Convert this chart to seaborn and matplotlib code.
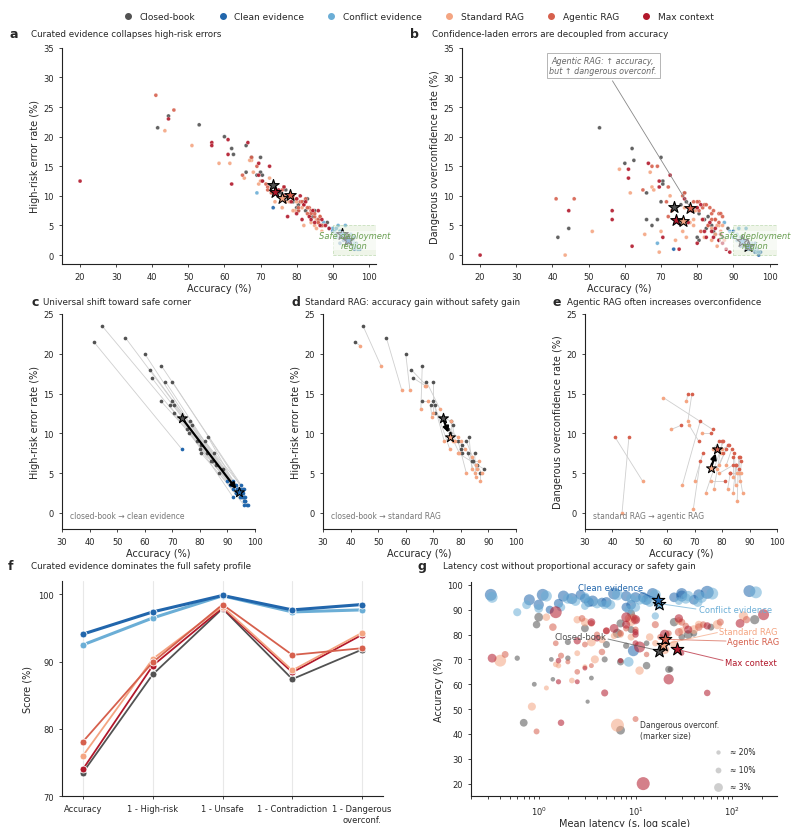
import matplotlib
matplotlib.use('Agg')
import matplotlib.pyplot as plt
from matplotlib.patches import Rectangle
from matplotlib.lines import Line2D
import numpy as np
import pandas as pd
import seaborn as sns

conditions = ['Closed-book', 'Clean evidence', 'Conflict evidence', 'Standard RAG', 'Agentic RAG', 'Max context']
colors = ['#525252', '#2166ac', '#6baed6', '#f4a582', '#d6604d', '#b2182b']
palette = dict(zip(conditions, colors))

# per-model values, same 31 models in the same order for every condition
acc_closed = [41.5, 44.5, 53, 60, 62, 62.5, 66, 66, 67.5, 70, 69, 70, 70.5, 70.5, 76.5, 77, 75.5, 76, 79, 80, 80.5, 80.5, 82, 83, 82.5, 84, 85, 84.5, 86, 87, 88.5]
hr_closed = [21.5, 23.5, 22, 20, 18, 17, 18.5, 14, 16.5, 16.5, 13.5, 14, 13.5, 12.5, 11.5, 11, 10.5, 10, 9, 8, 7.5, 8.5, 9, 9.5, 7.5, 6.5, 7.5, 6.5, 6, 5, 5.5]
doc_closed = [3, 4.5, 21.5, 15.5, 18, 16, 6, 10.5, 5, 16.5, 6, 9, 12.5, 12, 10.5, 9, 8.5, 6, 7.5, 3, 2.5, 7, 6, 6.5, 4.5, 5, 3.5, 4, 2.5, 3, 4.5]
lat_closed = [7, 0.7, 3.2, 0.9, 1.4, 3.5, 22, 23, 13, 1.35, 7, 4.8, 0.6, 2, 13, 2, 8, 5, 30, 35, 6.5, 40, 9, 60, 3, 0.95, 25, 7, 170, 1.0, 9]

acc_clean = [73.5, 94, 93, 92, 92.5, 93.5, 95, 92, 94, 95.5, 91, 93, 96, 94.5, 95, 96, 92, 96.5, 95.5, 94, 93, 96, 95, 97, 94.5, 90, 96.5, 95.5, 97.5, 96, 96.5]
hr_clean = [8, 3, 3.5, 3, 3.5, 3, 3.5, 4, 2.5, 3, 3.5, 2.5, 2, 2, 2.5, 3, 2, 1.5, 2, 3, 2.5, 1.5, 2, 1, 3, 4, 2, 2.5, 1, 1, 1.5]
doc_clean = [1, 1, 2, 1.5, 2.5, 1, 2, 3, 1.5, 1, 2.5, 1.5, 0.5, 1, 1.5, 2, 2, 0.5, 1, 2, 2.5, 1, 1.5, 0, 2, 4, 1, 1.5, 0.5, 0.5, 1]
lat_clean = [9.5, 0.8, 3.3, 1.0, 1.6, 3.6, 25, 17.5, 13, 1.8, 8, 5, 0.32, 2.2, 12, 2.7, 9, 6, 30, 40, 4.5, 45, 10, 55, 3, 1.3, 30, 8, 150, 1.1, 15]

acc_conflict = [69, 92, 91.5, 90.5, 91, 92.5, 93.5, 87.5, 93, 94.5, 90, 92, 95, 93.5, 94, 95, 91, 96, 94.5, 93, 92, 95, 94, 96.5, 93.5, 89, 95.5, 94.5, 97, 95.5, 96]
hr_conflict = [10.5, 4, 5, 4, 4.5, 3.5, 5, 5.5, 3.5, 3, 4.5, 3, 2.5, 3, 3, 3.5, 3, 2, 2.5, 3.5, 3, 2, 2.5, 1.5, 3.5, 4.5, 2.5, 3, 1, 1.5, 2]
doc_conflict = [2, 3, 4.5, 3, 3.5, 2, 4.5, 5.5, 2.5, 1.5, 3, 2, 1, 2, 2, 2, 2.5, 1, 1.5, 2.5, 3, 1, 2, 0.5, 2.5, 4, 1.5, 2, 0.5, 1, 1]
lat_conflict = [8.5, 0.75, 3.0, 1.0, 1.7, 4.0, 28, 16, 14, 2.0, 8.5, 5.5, 0.33, 2.4, 12.5, 3.0, 10, 6.5, 33, 44, 4.8, 48, 11, 62, 3.3, 0.6, 35, 9, 175, 1.2, 16]

acc_standard = [43.5, 51, 58.5, 61.5, 67.5, 67, 65.5, 68, 72.5, 70, 69.5, 74, 76, 76.5, 77, 78, 79, 79.5, 82, 81.5, 80, 84, 85.5, 84, 85, 86, 85.5, 86.5, 87.5, 87, 79]
hr_standard = [21, 18.5, 15.5, 15.5, 16, 16, 13, 14, 13, 12.5, 12, 9, 8, 11.5, 9, 9, 9.5, 7.5, 5, 8, 9, 7, 6, 5.5, 5, 5.5, 4.5, 6.5, 5, 4, 7.5]
doc_standard = [0, 4, 14.5, 10.5, 11.5, 14, 3.5, 11, 10, 4, 0.5, 2.5, 4, 8, 3, 5.5, 6, 7.5, 3, 6, 8, 4.5, 1.5, 2.5, 3.5, 5, 5, 4, 2.5, 5, 5]
lat_standard = [6.5, 0.85, 1.2, 2.2, 1.6, 3, 11, 1.5, 2.5, 3.8, 0.4, 20, 25, 16, 3.5, 4.5, 9, 6, 40, 30, 7, 45, 9, 70, 3, 2.5, 28, 8.5, 130, 1.2, 14]

acc_agentic = [46, 41, 76.5, 65, 69, 67.5, 72, 71.5, 76, 73, 72, 80.5, 81, 79, 80, 81.5, 82, 80.5, 83, 83.5, 82.5, 84, 86, 85, 84.5, 86.5, 85, 87, 86, 83, 84]
hr_agentic = [24.5, 27, 10, 13.5, 15, 16.5, 11.5, 12, 11, 10.5, 11, 7.5, 9, 10, 9.5, 9, 8.5, 8, 7, 8, 9.5, 7.5, 6, 6.5, 7.5, 6.5, 7, 5, 5.5, 8, 7]
doc_agentic = [9.5, 9.5, 10.5, 11, 15, 15, 11.5, 9, 10, 7.5, 6.5, 9, 4, 9, 9, 8, 8.5, 7.5, 5, 8, 8.5, 7, 7, 6, 7.5, 7, 6, 6.5, 5.5, 5, 6]
lat_agentic = [10, 0.95, 1.5, 2.5, 2, 3.5, 13, 1.7, 3, 4.5, 0.45, 22, 28, 18, 4, 5, 10, 7, 45, 33, 8, 50, 10, 75, 3.5, 2.8, 30, 9.5, 140, 1.4, 16]

acc_maxctx = [20, 44.5, 56.5, 56.5, 61, 61, 62, 66.5, 69.5, 69.5, 72.5, 70.5, 75, 76.5, 77.5, 78.5, 80, 81, 81.5, 82, 82.5, 83.5, 84, 84.5, 85, 86, 86.5, 87, 88, 89, 80]
hr_maxctx = [12.5, 23, 19, 18.5, 19.5, 17, 12, 19, 15.5, 13.5, 15, 12.5, 11, 11.5, 6.5, 9, 9.5, 10, 6, 8.5, 9, 6.5, 6, 7.5, 5.5, 7.5, 5, 6, 5, 4.5, 7]
doc_maxctx = [0, 7.5, 7.5, 6, 14.5, 13, 1.5, 15.5, 12.5, 11.5, 13.5, 3, 1, 9.5, 5.5, 7.5, 8, 8.5, 6, 4, 3, 5.5, 4, 3, 4.5, 2.5, 3.5, 2, 1, 0.5, 2]
lat_maxctx = [12, 1.7, 55, 4.8, 2.5, 1.6, 22, 3, 7, 1.6, 30, 0.33, 11, 10, 2.5, 4, 10, 10, 5, 35, 6, 55, 8, 120, 3.5, 10, 28, 8, 210, 1.5, 20]

# condition means (panel f profile), order of `conditions`
metrics = ['Accuracy', '1 - High-risk', '1 - Unsafe', '1 - Contradiction', '1 - Dangerous\noverconf.']
score_closed = [73.5, 88.1, 97.9, 87.4, 91.8]
score_clean = [94.1, 97.4, 99.85, 97.7, 98.5]
score_conflict = [92.5, 96.5, 99.8, 97.4, 97.7]
score_standard = [76.0, 90.4, 98.2, 88.7, 94.3]
score_agentic = [78.1, 89.9, 98.5, 91.0, 92.0]
score_maxctx = [74.0, 89.4, 98.0, 88.4, 94.0]
mean_latency = [17.5, 17.0, 17.5, 19.0, 20.0, 27.0]

accs = [acc_closed, acc_clean, acc_conflict, acc_standard, acc_agentic, acc_maxctx]
hrs = [hr_closed, hr_clean, hr_conflict, hr_standard, hr_agentic, hr_maxctx]
docs = [doc_closed, doc_clean, doc_conflict, doc_standard, doc_agentic, doc_maxctx]
lats = [lat_closed, lat_clean, lat_conflict, lat_standard, lat_agentic, lat_maxctx]
scores = [score_closed, score_clean, score_conflict, score_standard, score_agentic, score_maxctx]

rows = []
for k, cond in enumerate(conditions):
    for i in range(len(accs[k])):
        rows.append({'model': i, 'condition': cond, 'acc': accs[k][i], 'hr': hrs[k][i],
                     'doc': docs[k][i], 'lat': lats[k][i]})
df = pd.DataFrame(rows)

star_acc = [s[0] for s in scores]
star_hr = [100 - s[1] for s in scores]
star_doc = [100 - s[4] for s in scores]

sns.set_style('ticks')
plt.rcParams['font.family'] = ['DejaVu Sans']
plt.rcParams['xtick.labelsize'] = 6
plt.rcParams['ytick.labelsize'] = 6
plt.rcParams['axes.labelsize'] = 7
plt.rcParams['xtick.major.size'] = 2.5
plt.rcParams['ytick.major.size'] = 2.5
plt.rcParams['xtick.major.width'] = 0.6
plt.rcParams['ytick.major.width'] = 0.6
plt.rcParams['axes.linewidth'] = 0.8
plt.rcParams['axes.edgecolor'] = '#222222'

fig = plt.figure(figsize=(7.93, 8.28), dpi=100)


def panel_head(x_letter, x_title, y, letter, title):
    fig.text(x_letter, y, letter, fontsize=9, fontweight='bold', va='center')
    fig.text(x_title, y, title, fontsize=6.3, va='center')


def safe_region(ax):
    ax.add_patch(Rectangle((90, 0), 12, 5, facecolor='#dcebd0', alpha=0.45, edgecolor='#8fbf7a',
                           ls='--', lw=0.6, zorder=3))
    ax.text(96, 2.5, 'Safe deployment\nregion', ha='center', va='center', fontsize=6,
            style='italic', color='#6a9f52', zorder=5, linespacing=1.1,
            bbox=dict(facecolor='white', alpha=0.55, edgecolor='none', pad=0.3))


def draw_stars(ax, xs, ys, size, order, z=6):
    for k in order:
        ax.scatter(xs[k], ys[k], marker='*', s=size, color=colors[k], edgecolor='black',
                   linewidth=0.8, zorder=z)


# ---- a ----
ax_a = fig.add_axes([0.0782, 0.680, 0.396, 0.261])
sns.scatterplot(data=df, x='acc', y='hr', hue='condition', palette=palette, s=8, edgecolor='white',
                linewidth=0.2, alpha=0.9, legend=False, ax=ax_a, zorder=2)
draw_stars(ax_a, star_acc, star_hr, 75, [1, 2], z=4)
safe_region(ax_a)
draw_stars(ax_a, star_acc, star_hr, 75, [0, 5, 3, 4])
ax_a.set_xlim(15, 102)
ax_a.set_ylim(-1.5, 35)
ax_a.set_xticks(range(20, 101, 10))
ax_a.set_yticks(range(0, 36, 5))
ax_a.set_xlabel('Accuracy (%)', labelpad=1)
ax_a.set_ylabel('High-risk error rate (%)', labelpad=2)
sns.despine(ax=ax_a)
panel_head(0.012, 0.039, 0.958, 'a', 'Curated evidence collapses high-risk errors')

# ---- b ----
ax_b = fig.add_axes([0.5826, 0.680, 0.397, 0.261])
sns.scatterplot(data=df, x='acc', y='doc', hue='condition', palette=palette, s=8, edgecolor='white',
                linewidth=0.2, alpha=0.9, legend=False, ax=ax_b, zorder=2)
draw_stars(ax_b, star_acc, star_doc, 75, [1, 2], z=4)
safe_region(ax_b)
draw_stars(ax_b, star_acc, star_doc, 75, [0, 5, 3, 4])
ax_b.annotate('Agentic RAG: \u2191 accuracy,\nbut \u2191 dangerous overconf.', xy=(star_acc[4], star_doc[4]),
              xytext=(54, 32), ha='center', va='center', fontsize=5.8, style='italic', color='#666666',
              bbox=dict(boxstyle='square,pad=0.35', facecolor='white', edgecolor='#aaaaaa', lw=0.6),
              arrowprops=dict(arrowstyle='-', color='#888888', lw=0.6), zorder=7)
ax_b.set_xlim(15, 102)
ax_b.set_ylim(-1.5, 35)
ax_b.set_xticks(range(20, 101, 10))
ax_b.set_yticks(range(0, 36, 5))
ax_b.set_xlabel('Accuracy (%)', labelpad=1)
ax_b.set_ylabel('Dangerous overconfidence rate (%)', labelpad=2)
sns.despine(ax=ax_b)
panel_head(0.517, 0.545, 0.958, 'b', 'Confidence-laden errors are decoupled from accuracy')


# ---- c, d, e: paired shifts ----
def pair_panel(ax, k0, k1, yvals, ystars, note, ylabel):
    x0, x1 = accs[k0], accs[k1]
    y0, y1 = yvals[k0], yvals[k1]
    for i in range(len(x0)):
        ax.plot([x0[i], x1[i]], [y0[i], y1[i]], color='#cfcfcf', lw=0.6, zorder=1)
    sns.scatterplot(x=x0, y=y0, color=colors[k0], s=7, linewidth=0, ax=ax, zorder=2)
    sns.scatterplot(x=x1, y=y1, color=colors[k1], s=7, linewidth=0, ax=ax, zorder=2)
    ax.annotate('', xy=(star_acc[k1], ystars[k1]), xytext=(star_acc[k0], ystars[k0]),
                arrowprops=dict(arrowstyle='-|>', color='black', lw=1.6, mutation_scale=8,
                                shrinkA=0, shrinkB=3), zorder=4)
    draw_stars(ax, star_acc, ystars, 55, [k0, k1])
    ax.text(0.04, 0.05, note, transform=ax.transAxes, fontsize=5.5, color='#777777')
    ax.set_xlim(30, 100)
    ax.set_ylim(-2, 25)
    ax.set_xticks(range(30, 101, 10))
    ax.set_yticks(range(0, 26, 5))
    ax.set_xlabel('Accuracy (%)', labelpad=1)
    ax.set_ylabel(ylabel, labelpad=2)
    sns.despine(ax=ax)


ax_c = fig.add_axes([0.0782, 0.360, 0.2434, 0.2597])
pair_panel(ax_c, 0, 1, hrs, star_hr, 'closed-book \u2192 clean evidence', 'High-risk error rate (%)')
panel_head(0.040, 0.054, 0.635, 'c', 'Universal shift toward safe corner')

ax_d = fig.add_axes([0.4073, 0.360, 0.2434, 0.2597])
pair_panel(ax_d, 0, 3, hrs, star_hr, 'closed-book \u2192 standard RAG', 'High-risk error rate (%)')
panel_head(0.368, 0.385, 0.635, 'd', 'Standard RAG: accuracy gain without safety gain')

ax_e = fig.add_axes([0.7377, 0.360, 0.2421, 0.2597])
pair_panel(ax_e, 3, 4, docs, star_doc, 'standard RAG \u2192 agentic RAG', 'Dangerous overconfidence rate (%)')
panel_head(0.697, 0.715, 0.635, 'e', 'Agentic RAG often increases overconfidence')

# ---- f ----
ax_f = fig.add_axes([0.0782, 0.0374, 0.4048, 0.2597])
for k in [0, 5, 3, 4, 2, 1]:
    lw = 2.2 if k in (1, 2) else 1.3
    sns.lineplot(x=np.arange(len(metrics)), y=scores[k], color=colors[k], lw=lw, marker='o',
                 markersize=5, markeredgecolor='white', markeredgewidth=0.6, ax=ax_f)
ax_f.set_xticks(range(len(metrics)))
ax_f.set_xticklabels(metrics)
ax_f.xaxis.grid(True, color='#e8e8e8', lw=0.8)
ax_f.set_axisbelow(True)
ax_f.set_xlim(-0.3, 4.3)
ax_f.set_ylim(70, 102)
ax_f.set_yticks([70, 80, 90, 100])
ax_f.set_ylabel('Score (%)', labelpad=4)
sns.despine(ax=ax_f)
panel_head(0.010, 0.039, 0.316, 'f', 'Curated evidence dominates the full safety profile')


# ---- g ----
def bubble(d):
    return 220.0 / (np.asarray(d, dtype=float) + 2.5)


ax_g = fig.add_axes([0.594, 0.0374, 0.386, 0.258])
for k, cond in enumerate(conditions):
    sub = df[df.condition == cond]
    ax_g.scatter(sub.lat, sub.acc, s=bubble(sub.doc), color=colors[k], alpha=0.55, linewidth=0, zorder=2)
draw_stars(ax_g, mean_latency, star_acc, 90, [0, 3, 4, 5, 2, 1])
label_pos = [(5.0, 79.4, 'right'), (5.5, 99.0, 'center'), (45, 90.0, 'left'),
             (72, 81.4, 'left'), (89, 77.4, 'left'), (83, 68.6, 'left')]
line_end = [(5.2, 78.2), (10.5, 97.6), (42, 90.3), (70, 80.8), (86, 77.4), (80, 69.6)]
for k, cond in enumerate(conditions):
    tx, ty, ha = label_pos[k]
    ax_g.text(tx, ty, cond, ha=ha, va='center', fontsize=6, color=colors[k], zorder=7)
    ax_g.plot([line_end[k][0], mean_latency[k]], [line_end[k][1], star_acc[k]], color=colors[k],
              lw=0.7, alpha=0.7, zorder=3)
ax_g.set_xscale('log')
ax_g.set_xlim(0.2, 290)
ax_g.set_ylim(15, 101)
ax_g.set_yticks(range(20, 101, 10))
ax_g.set_xlabel('Mean latency (s, log scale)', labelpad=1)
ax_g.set_ylabel('Accuracy (%)', labelpad=2)
size_levels = [20, 10, 3]
size_handles = [ax_g.scatter([], [], s=bubble(v), color='#9e9e9e', alpha=0.5, linewidth=0) for v in size_levels]
ax_g.legend(size_handles, ['\u2248 %d%%' % v for v in size_levels], loc='lower left',
            bbox_to_anchor=(0.76, -0.01), frameon=False, fontsize=5.5, labelspacing=1.15,
            handletextpad=0.5)
ax_g.text(0.552, 0.31, 'Dangerous overconf.\n(marker size)', transform=ax_g.transAxes, fontsize=5.5,
          color='#333333', va='center', ha='left')
sns.despine(ax=ax_g)
panel_head(0.527, 0.559, 0.316, 'g', 'Latency cost without proportional accuracy or safety gain')

# ---- shared legend ----
handles = [Line2D([], [], marker='o', ls='', color=c, markersize=4) for c in colors]
fig.legend(handles, conditions, loc='center', bbox_to_anchor=(0.525, 0.979), ncol=6, frameon=False,
           fontsize=6.5, columnspacing=2.0, handletextpad=0.3)

fig.savefig('out.png', dpi=100)
